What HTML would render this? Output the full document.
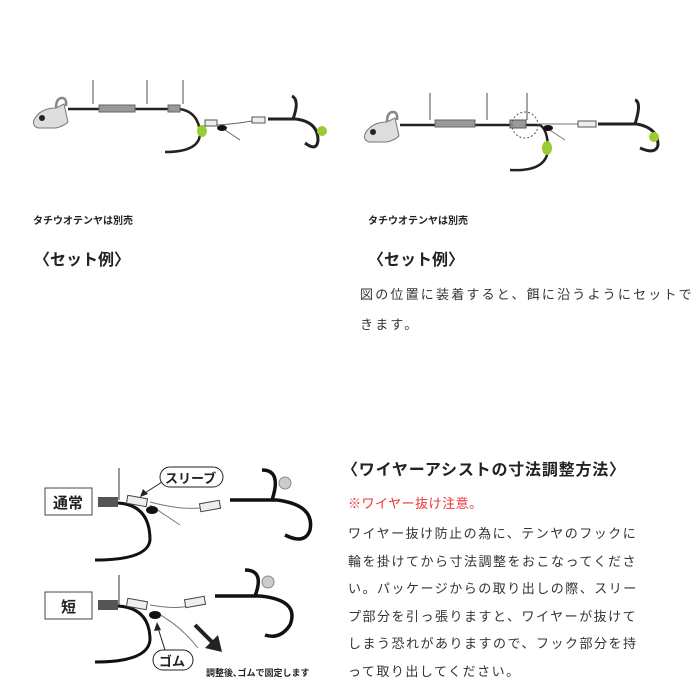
<!DOCTYPE html>
<html><head><meta charset="utf-8"><style>
html,body{margin:0;padding:0;background:#fff;width:700px;height:700px;overflow:hidden}
.t{position:absolute;font-family:"Liberation Sans","Noto Sans CJK JP",sans-serif;color:#222;white-space:nowrap}
</style></head><body>
<svg width="700" height="700" style="position:absolute;left:0;top:0">
<defs>
<g id="head"><path d="M0,12 Q6,0 22,0 L30,-4 L34,14 Q30,18 22,20 L4,20 Q-2,18 0,12Z" fill="#ddd" stroke="#777" stroke-width="1"/><path d="M22,0 Q22,-10 28,-10 Q33,-10 32,-2" fill="none" stroke="#888" stroke-width="2.5"/><circle cx="8" cy="10" r="3" fill="#222"/></g>
</defs>
<g>
<use href="#head" x="34" y="108"/>
<path d="M93,80 V104 M147,80 V104 M183,80 V104" stroke="#888" stroke-width="1.5" fill="none"/>
<path d="M68,109 H180 Q198,112 200,132 Q201,152 165,152" stroke="#2a1f1f" stroke-width="2.5" fill="none"/>
<rect x="99" y="105" width="36" height="7" fill="#999" stroke="#666"/>
<rect x="168" y="105" width="12" height="7" fill="#999" stroke="#666"/>
<ellipse cx="202" cy="131" rx="5" ry="6" fill="#9c3"/>
<path d="M217,125 Q235,124 252,121 M222,128 L240,140" stroke="#666" stroke-width="1" fill="none"/>
<rect x="205" y="120" width="12" height="6" fill="#eee" stroke="#555"/>
<ellipse cx="222" cy="128" rx="5" ry="3" fill="#111"/>
<rect x="252" y="117" width="13" height="6" fill="#eee" stroke="#555"/>
<path d="M268,119 H296 M293,119 Q300,100 292,96 M296,119 Q318,122 318,140 Q317,152 305,143" stroke="#222" stroke-width="3" fill="none"/>
<ellipse cx="322" cy="131" rx="5" ry="5" fill="#9c3"/>
</g>
<g>
<use href="#head" x="365" y="122"/>
<path d="M430,93 V120 M487,93 V120 M527,93 V120" stroke="#888" stroke-width="1.5" fill="none"/>
<path d="M400,125 H540 Q548,130 548,150 Q546,172 510,170" stroke="#2a1f1f" stroke-width="2.5" fill="none"/>
<rect x="435" y="120" width="40" height="7" fill="#999" stroke="#666"/>
<rect x="510" y="120" width="16" height="8" fill="#999" stroke="#555"/>
<circle cx="525" cy="125" r="13" fill="none" stroke="#555" stroke-dasharray="2,2"/>
<ellipse cx="547" cy="148" rx="5" ry="7" fill="#9c3"/>
<path d="M540,124 H580 M545,127 L565,140" stroke="#777" stroke-width="1" fill="none"/>
<ellipse cx="548" cy="128" rx="5" ry="3" fill="#111"/>
<rect x="578" y="121" width="18" height="6" fill="#eee" stroke="#555"/>
<path d="M598,124 H637 M635,124 Q642,102 635,100 M637,124 Q658,128 658,145 Q656,155 640,148" stroke="#222" stroke-width="3" fill="none"/>
<ellipse cx="654" cy="137" rx="5" ry="5" fill="#9c3"/>
</g>
<g>
<rect x="45" y="488" width="47" height="27" fill="#fff" stroke="#444"/>
<path d="M119,468 V500" stroke="#777" stroke-width="1.5"/>
<rect x="98" y="497" width="20" height="10" fill="#555"/>
<path d="M118,503 Q150,505 150,540 Q148,560 95,560" stroke="#111" stroke-width="3" fill="none"/>
<path d="M150,502 Q180,510 200,508 M150,505 L180,525" stroke="#777" stroke-width="1" fill="none"/>
<rect x="127" y="497" width="20" height="8" fill="#eee" stroke="#444" transform="rotate(10 137 501)"/>
<ellipse cx="152" cy="510" rx="6" ry="4" fill="#111"/>
<rect x="200" y="502" width="20" height="8" fill="#eee" stroke="#444" transform="rotate(-10 210 506)"/>
<path d="M230,500 H277 M272,500 Q282,470 262,470 M277,500 Q315,505 310,530 Q305,545 285,535" stroke="#111" stroke-width="3.5" fill="none"/>
<circle cx="285" cy="483" r="6" fill="#ccc" stroke="#888"/>
<rect x="160" y="467" width="63" height="20" rx="10" fill="#fff" stroke="#222"/>
<path d="M162,482 L145,493" stroke="#222"/><path d="M140,497 l3,-8 l5,5z" fill="#222"/>
<rect x="45" y="592" width="47" height="27" fill="#fff" stroke="#444"/>
<path d="M119,575 V605" stroke="#777" stroke-width="1.5"/>
<rect x="98" y="600" width="20" height="10" fill="#555"/>
<path d="M118,606 Q150,608 150,640 Q148,662 95,662" stroke="#111" stroke-width="3" fill="none"/>
<path d="M150,605 Q180,610 190,605 M155,612 Q180,625 198,648" stroke="#777" stroke-width="1" fill="none"/>
<rect x="127" y="600" width="20" height="8" fill="#eee" stroke="#444" transform="rotate(10 137 604)"/>
<ellipse cx="155" cy="615" rx="6" ry="4" fill="#111"/>
<rect x="185" y="598" width="20" height="8" fill="#eee" stroke="#444" transform="rotate(-10 195 602)"/>
<path d="M215,596 H260 M255,596 Q265,570 245,570 M260,596 Q300,600 290,625 Q280,640 265,635" stroke="#111" stroke-width="3.5" fill="none"/>
<circle cx="268" cy="582" r="6" fill="#ccc" stroke="#888"/>
<path d="M195,625 L215,645" stroke="#222" stroke-width="4"/><path d="M222,652 L205,648 L218,635z" fill="#222"/>
<path d="M165,650 L158,628" stroke="#222"/><path d="M157,622 l-3,9 l7,-1z" fill="#222"/>
<rect x="153" y="650" width="40" height="20" rx="10" fill="#fff" stroke="#222"/>
</g>
</svg>
<div class="t" style="left:33px;top:212px;font-size:10px;font-weight:bold">タチウオテンヤは別売</div>
<div class="t" style="left:34px;top:246px;font-size:16px;font-weight:bold">〈セット例〉</div>
<div class="t" style="left:368px;top:212px;font-size:10px;font-weight:bold">タチウオテンヤは別売</div>
<div class="t" style="left:368px;top:246px;font-size:16px;font-weight:bold">〈セット例〉</div>
<div class="t" style="left:360px;top:284px;font-size:13px;letter-spacing:2.2px;color:#333">図の位置に装着すると、餌に沿うようにセットで</div>
<div class="t" style="left:360px;top:314px;font-size:13px;letter-spacing:2.2px;color:#333">きます。</div>
<div class="t" style="left:53px;top:492px;font-size:15px;font-weight:bold">通常</div>
<div class="t" style="left:61px;top:596px;font-size:15px;font-weight:bold">短</div>
<div class="t" style="left:165px;top:468px;font-size:13px;font-weight:bold">スリーブ</div>
<div class="t" style="left:159px;top:651px;font-size:13px;font-weight:bold">ゴム</div>
<div class="t" style="left:206px;top:666px;font-size:9px;font-weight:bold">調整後､ゴムで固定します</div>
<div class="t" style="left:342px;top:456px;font-size:16px;font-weight:bold;letter-spacing:0.8px">〈ワイヤーアシストの寸法調整方法〉</div>
<div class="t" style="left:348px;top:493px;font-size:13px;color:#e33;letter-spacing:0.5px">※ワイヤー抜け注意。</div>
<div class="t" style="left:348px;top:520px;font-size:13px;letter-spacing:1.5px;color:#333;line-height:27.5px">ワイヤー抜け防止の為に、テンヤのフックに<br>輪を掛けてから寸法調整をおこなってくださ<br>い。パッケージからの取り出しの際、スリー<br>プ部分を引っ張りますと、ワイヤーが抜けて<br>しまう恐れがありますので、フック部分を持<br>って取り出してください。</div>
</body></html>
